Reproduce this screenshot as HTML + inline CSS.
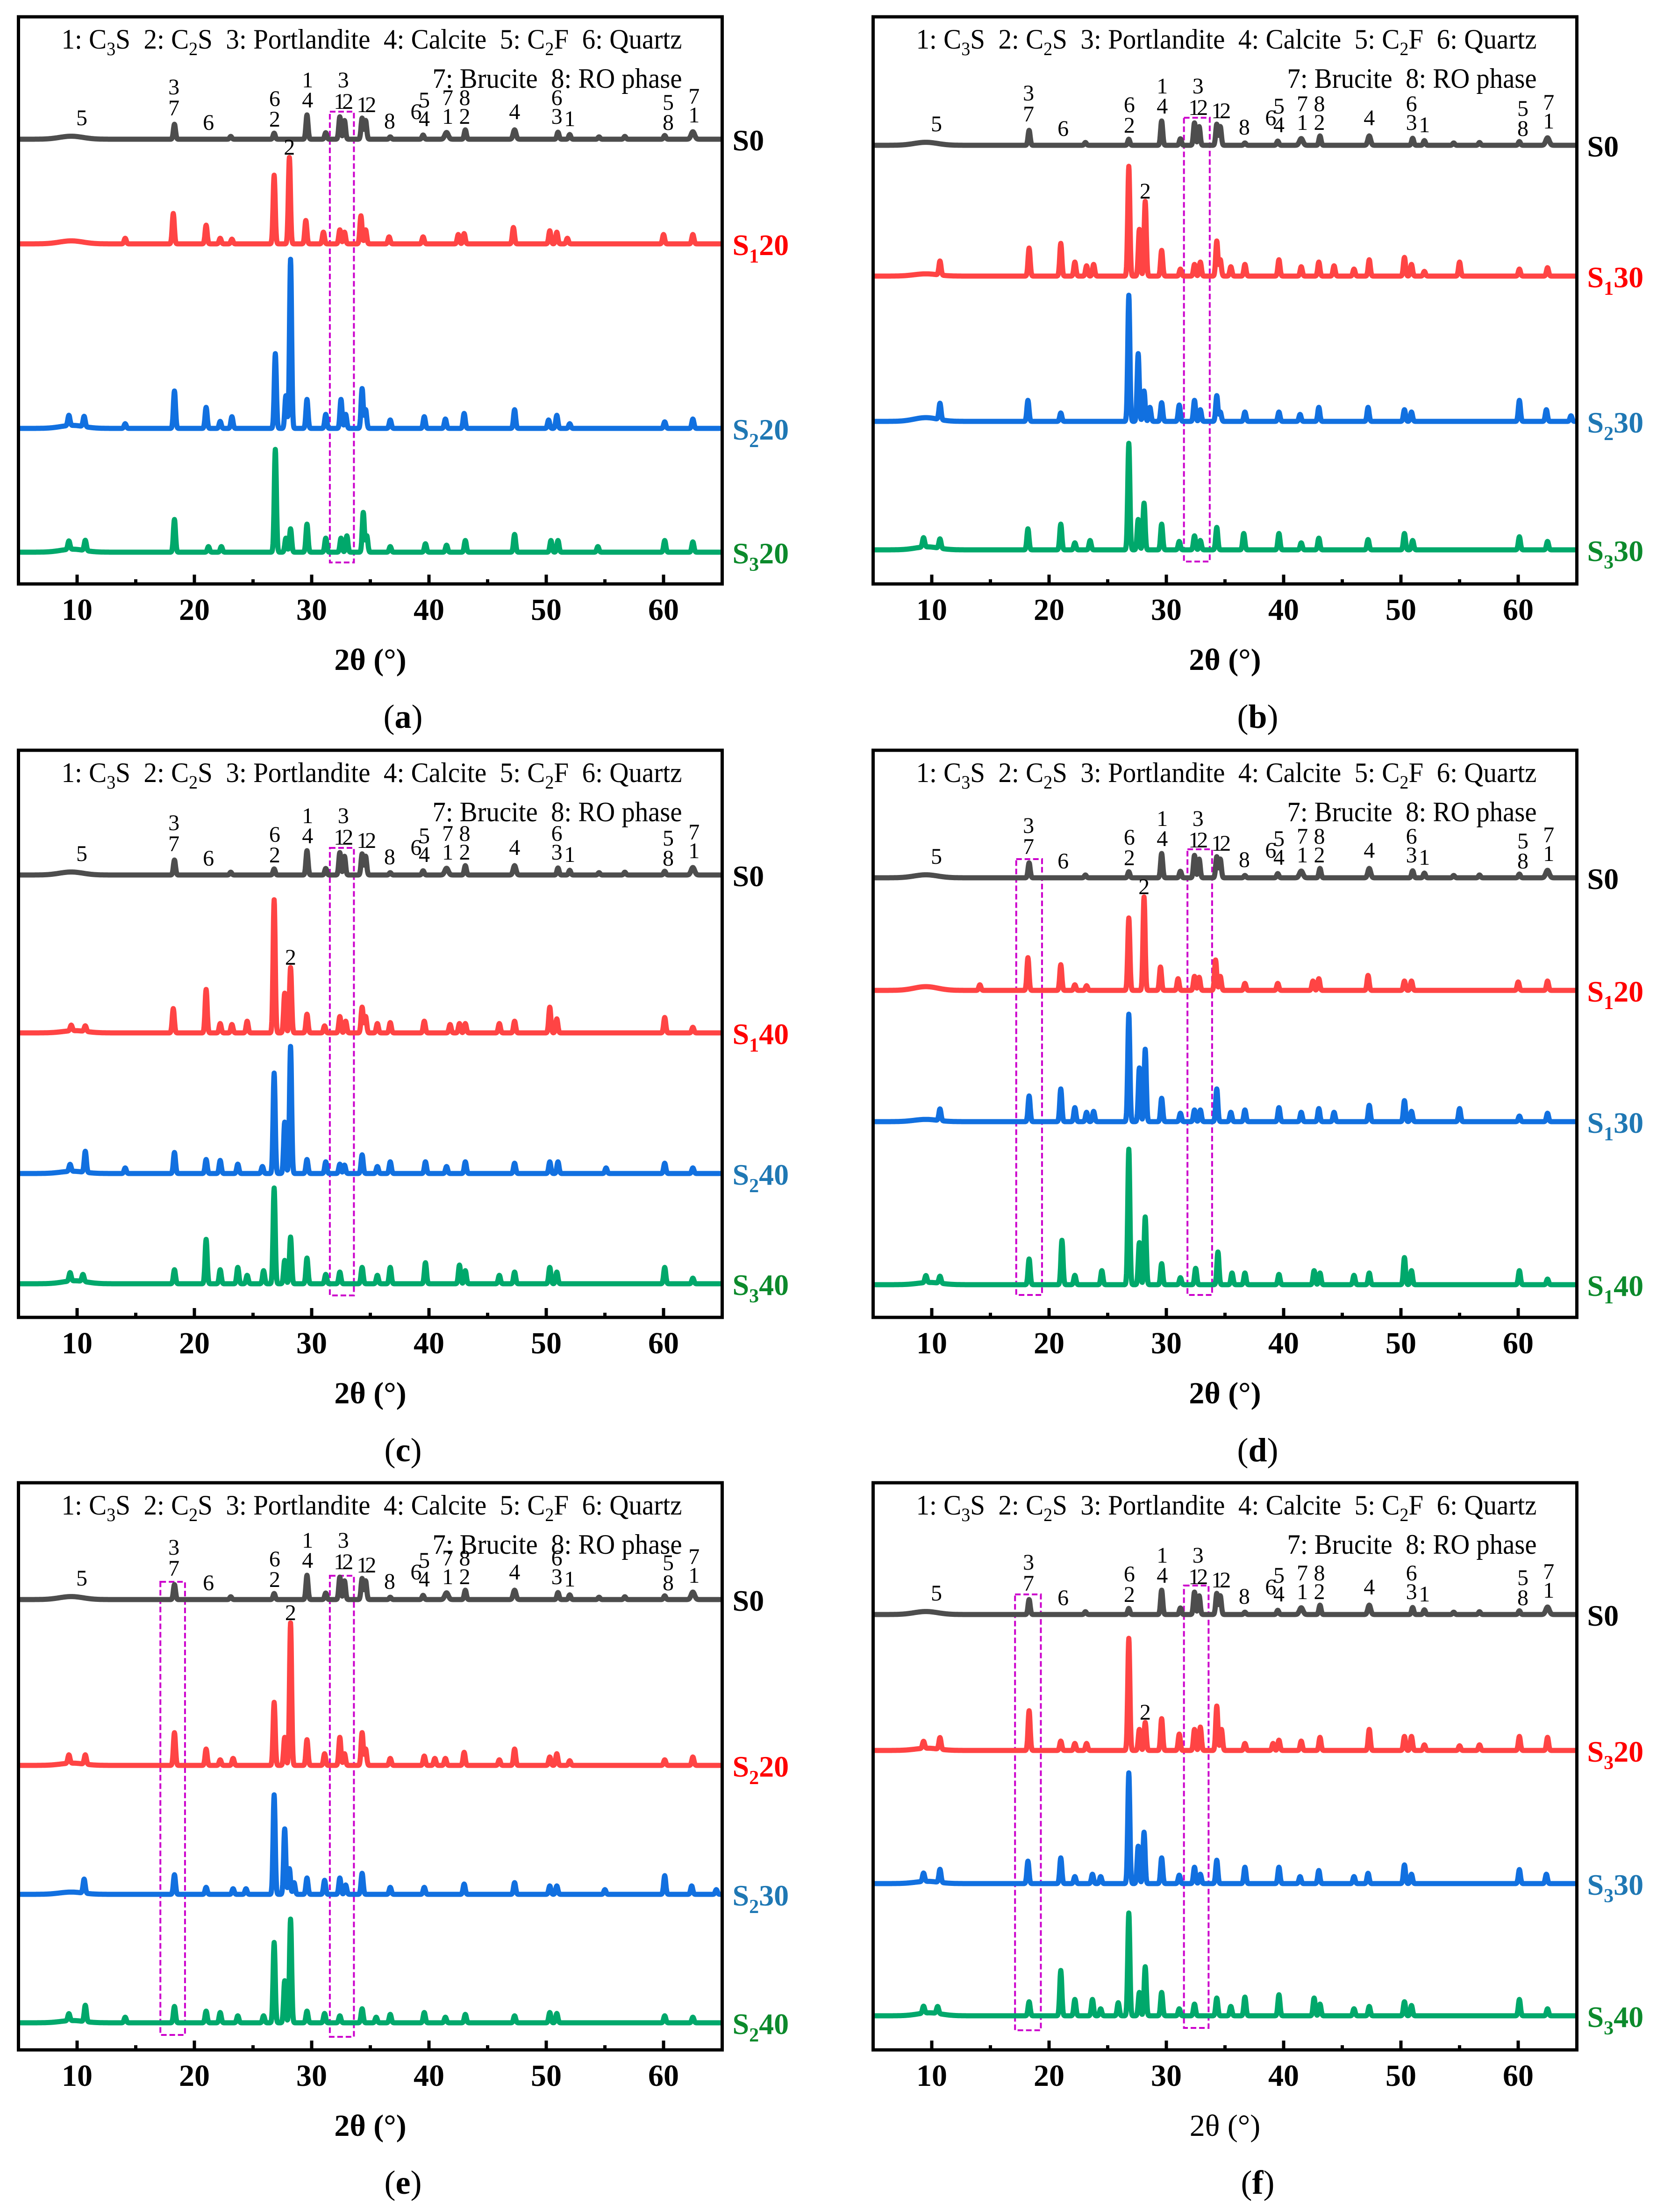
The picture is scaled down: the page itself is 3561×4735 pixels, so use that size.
<!DOCTYPE html>
<html><head><meta charset="utf-8"><style>
html,body{margin:0;padding:0;background:#fff;}
svg{display:block;}
text{font-family:"Liberation Serif","DejaVu Serif",serif;white-space:pre;}
</style></head>
<body>
<svg id="fig" xmlns="http://www.w3.org/2000/svg" width="3561" height="4735" viewBox="0 0 3561 4735"></svg>
<script>
// ---------- data ----------
const xTicks = [10,20,30,40,50,60];
const minorTicks = [5,15,25,35,45,55,65];
const legendLine1 = "1: C|3|S\u00a0\u00a02: C|2|S\u00a0\u00a03: Portlandite\u00a0\u00a04: Calcite\u00a0\u00a05: C|2|F\u00a0\u00a06: Quartz";
const legendLine2 = "7: Brucite\u00a0\u00a08: RO phase";
const panelLetters = ["a","b","c","d","e","f"];
const labelsA = [["S0","",""],["S","1","20"],["S","2","20"],["S","3","20"]];
const labelsB = [["S0","",""],["S","1","30"],["S","2","30"],["S","3","30"]];
const labelsC = [["S0","",""],["S","1","40"],["S","2","40"],["S","3","40"]];
const labelsD = [["S0","",""],["S","1","20"],["S","1","30"],["S","1","40"]];
const labelsE = [["S0","",""],["S","2","20"],["S","2","30"],["S","2","40"]];
const labelsF = [["S0","",""],["S","3","20"],["S","3","30"],["S","3","40"]];
const annotations = [[10.4,"5",30],[18.25,"3",96],[18.25,"7",51],[21.2,"6",20],[26.85,"6",71],[26.85,"2",27],
 [29.65,"1",111],[29.65,"4",68],[32.7,"3",111],[32.6,"12",65],[34.55,"12",58],[36.65,"8",23],[38.9,"6",43],
 [39.6,"5",68],[39.6,"4",28],[41.6,"7",73],[41.6,"1",33],[43.05,"8",73],[43.05,"2",33],[47.3,"4",43],
 [50.9,"6",73],[50.9,"3",33],[52.0,"1",28],[60.4,"5",63],[60.4,"8",20],[62.6,"7",76],[62.6,"1",36]];
const S0 = [[9.5,8,1.0],[18.3,32],[23.1,6],[26.8,13],[29.6,52],[31.2,14],[32.4,48],[32.8,40],[34.3,45],[34.6,40],
 [36.7,5],[39.5,9],[41.5,18,0.15],[43.1,20],[47.3,25,0.12],[51,15],[52,10],[54.5,5],[56.7,6],[60.1,8],[62.5,20,0.15]];
const A1 = [[9.5,8,1.0],[14.1,12],[18.2,65],[21,40],[22.2,12],[23.2,10],[26.8,147],[28.1,185],[29.5,50],[31,25],[32.4,30],
 [32.8,25],[34.2,60],[34.6,30],[36.6,15],[39.5,15],[42.5,20],[43,22],[47.2,35],[50.3,28],[50.9,25],[51.8,12],[60,20],[62.5,20]];
const A2 = [[9.3,22],[9.6,8,1.0],[10.6,22],[14.1,10],[18.3,80],[21,45],[22.2,15],[23.2,25],[26.9,160],[27.8,70],[28.2,362],
 [29.6,62],[31.2,30],[32.5,62],[32.9,30],[34.3,85],[34.6,40],[36.7,18],[39.6,25],[41.4,20],[43,32],[47.3,40],[50.2,18],
 [50.9,28],[52,10],[60.1,14],[62.5,20]];
const A3 = [[9.3,18],[9.6,8,1.0],[10.7,22],[18.3,70],[21.2,12],[22.3,12],[26.9,220],[27.8,30],[28.2,50],[29.6,60],[31.2,30],
 [32.5,30],[33,35],[34.4,85],[34.7,35],[36.7,12],[39.7,18],[41.5,15],[43.1,25],[47.3,38],[50.4,25],[51,25],[54.4,12],[60.1,25],[62.5,22]];
const B1 = [[9.5,6,1.0],[10.7,30],[18.3,60],[21,70],[22.2,30],[23.2,22],[23.8,25],[26.8,235],[27.7,100],[28.2,160],[29.6,55],
 [31.2,15],[32.4,25],[32.9,30],[34.3,75],[34.6,35],[35.5,20],[36.7,25],[39.6,35],[41.5,20],[43,30],[44.3,22],[46,15],
 [47.3,35],[50.3,40],[50.9,25],[52,10],[55,30],[60.1,15],[62.5,18]];
const B2 = [[9.5,10,1.0],[10.7,35],[18.2,45],[21,18],[26.8,270],[27.6,145],[28.1,65],[28.6,30],[29.6,40],[31.1,35],[32.4,45],
 [32.9,25],[34.3,55],[34.6,20],[36.7,20],[39.6,20],[41.4,15],[43,30],[47.2,30],[50.3,25],[50.9,20],[60.1,45],[62.4,25],[64.5,12]];
const B3 = [[9.3,20],[9.6,8,1.0],[10.7,20],[18.2,45],[21,55],[22.2,15],[23.5,20],[26.8,228],[27.6,65],[28.1,100],[29.6,55],
 [31.1,18],[32.4,30],[32.9,20],[34.3,48],[36.6,35],[39.6,35],[41.5,15],[43,25],[47.2,22],[50.3,35],[51,20],[60.1,28],[62.5,18]];
const C1 = [[9.5,12],[9.8,6,1.0],[10.7,12],[18.2,52],[21,93],[22.2,20],[23.2,18],[24.5,25],[26.8,285],[27.7,85],[28.2,140],
 [29.6,40],[31.1,15],[32.4,35],[32.9,25],[34.3,55],[34.6,35],[35.6,20],[36.7,22],[39.6,25],[41.8,18],[42.6,20],[43.1,20],
 [46,20],[47.3,25],[50.3,55],[50.9,30],[60.1,33],[62.5,12]];
const C2 = [[9.4,15],[9.6,6,1.0],[10.7,45],[14.1,12],[18.3,45],[21,30],[22.2,28],[23.7,20],[25.8,15],[26.8,215],[27.7,110],
 [28.2,272],[29.6,30],[31.2,25],[32.4,20],[32.8,18],[34.3,40],[35.6,15],[36.7,25],[39.7,25],[41.5,15],[43.1,25],[47.3,22],
 [50.3,25],[51,25],[55.1,12],[60.1,22],[62.5,12]];
const C3 = [[9.4,18],[9.8,8,1.0],[10.5,15],[18.3,30],[21,95],[22.2,30],[23.7,35],[24.5,18],[25.9,28],[26.8,205],[27.7,50],
 [28.2,100],[29.6,55],[31.2,20],[32.4,25],[34.3,35],[35.6,18],[36.7,35],[39.7,45],[42.6,40],[43.1,28],[46,18],[47.3,25],
 [50.3,35],[50.9,25],[60.1,35],[62.5,12]];
const D1 = [[9.5,10,1.0],[14.1,12],[18.2,70],[21,55],[22.2,12],[23.2,10],[26.8,155],[28.1,200],[29.5,50],[31,25],[32.4,30],
 [32.8,28],[34.2,65],[34.6,30],[36.7,15],[39.5,15],[42.5,20],[43,25],[47.2,32],[50.3,20],[50.9,20],[60,18],[62.5,20]];
const D2 = [[9.5,6,1.0],[10.7,25],[18.3,55],[21,70],[22.2,30],[23.2,20],[23.8,22],[26.8,230],[27.7,115],[28.2,155],[29.6,50],
 [31.2,18],[32.4,25],[32.9,25],[34.3,70],[35.5,20],[36.7,25],[39.6,30],[41.5,20],[43,28],[44.3,20],[47.3,35],[50.3,45],
 [50.9,22],[55,28],[60.1,12],[62.5,18]];
const D3 = [[9.5,15],[9.8,6,1.0],[10.7,15],[18.3,55],[21.1,95],[22.2,20],[24.5,30],[26.8,290],[27.7,90],[28.2,145],[29.6,45],
 [31.2,15],[32.5,35],[34.4,70],[35.6,25],[36.7,25],[39.6,22],[42.6,30],[43.1,25],[46,20],[47.3,25],[50.3,58],[50.9,30],
 [60.1,30],[62.5,12]];
const E1 = [[9.3,18],[9.6,6,1.0],[10.7,20],[18.3,70],[21,35],[22.2,12],[23.3,15],[26.8,135],[27.7,60],[28.2,305],[29.6,55],
 [31.1,25],[32.4,60],[32.8,25],[34.3,70],[34.6,35],[36.7,15],[39.6,20],[40.5,15],[41.4,15],[43,28],[46,12],[47.3,35],
 [50.3,18],[50.9,25],[52,10],[60.1,12],[62.5,18]];
const E2 = [[9.5,6,1.0],[10.6,30],[18.3,42],[21,15],[23.3,12],[24.4,12],[26.8,213],[27.7,140],[28.1,55],[28.5,25],[29.6,35],
 [31.1,30],[32.4,35],[32.9,20],[34.3,45],[36.7,15],[39.6,15],[43,22],[47.3,25],[50.3,18],[50.9,18],[55,10],[60.1,40],
 [62.4,18],[64.5,10]];
const E3 = [[9.3,15],[9.6,6,1.0],[10.7,35],[14.1,12],[18.3,35],[21,25],[22.2,22],[23.7,15],[25.9,15],[26.8,172],[27.7,90],
 [28.2,222],[29.6,25],[31.1,20],[32.4,15],[34.3,30],[35.5,12],[36.7,18],[39.6,22],[41.4,12],[43.1,18],[47.3,15],[50.3,22],
 [50.9,20],[60.1,15],[62.5,12]];
const F1 = [[9.3,15],[9.6,6,1.0],[10.7,25],[18.3,85],[21,20],[22.2,15],[23.2,15],[26.8,240],[27.7,45],[28.2,60],[29.6,68],
 [31.1,35],[32.4,45],[32.9,50],[34.3,95],[34.7,45],[36.7,15],[39.1,15],[39.6,22],[41.5,20],[43.1,28],[47.3,45],[50.3,30],
 [50.9,30],[52,12],[55,10],[56.7,12],[60.1,30],[62.5,28]];
const F2 = [[9.3,18],[9.6,6,1.0],[10.7,28],[18.2,48],[21,55],[22.2,15],[23.7,20],[24.4,15],[26.8,237],[27.6,80],[28.1,110],
 [29.6,55],[31.1,18],[32.4,35],[32.9,20],[34.3,50],[36.7,35],[39.6,35],[41.4,15],[43,28],[46,15],[47.2,22],[50.3,40],
 [50.9,20],[60.1,30],[62.4,20]];
const F3 = [[9.3,15],[9.8,8,1.0],[10.5,15],[18.3,30],[21,97],[22.2,35],[23.7,35],[24.4,15],[25.9,28],[26.8,220],[27.7,50],
 [28.2,105],[29.6,50],[31.1,15],[32.4,25],[34.3,38],[35.5,20],[36.7,40],[39.6,45],[42.6,38],[43.1,25],[46,15],[47.3,20],
 [50.3,30],[50.9,22],[60.1,35],[62.5,15]];
const baselinesA = [262,486,881,1146];
const baselinesB = [275,555,866,1141];
const baselinesC = [267,605,906,1142];
const baselinesD = [273,514,795,1144];
const baselinesE = [250,605,881,1156];
const baselinesF = [282,573,858,1141];
const boxesA = [[31.55,33.6,203,1168]];
const boxesB = [[31.5,33.7,216,1166]];
const boxesC = [[31.55,33.6,209,1167]];
const boxesD = [[17.2,19.4,233,1166],[31.8,33.9,212,1166]];
const boxesE = [[17.1,19.2,212,1182],[31.55,33.6,199,1186]];
const boxesF = [[17.1,19.3,239,1172],[31.5,33.6,220,1167]];
const mark2A = [28.1,1];
const mark2B = [28.2,1];
const mark2C = [28.2,1];
const mark2D = [28.1,1];
const mark2E = [28.2,1];
const mark2F = [28.2,1];

const panels = [
 {id:"a",col:0,row:0,series:[S0,A1,A2,A3],labels:labelsA,base:baselinesA,boxes:boxesA,mark:mark2A,titleBold:true},
 {id:"b",col:1,row:0,series:[S0,B1,B2,B3],labels:labelsB,base:baselinesB,boxes:boxesB,mark:mark2B,titleBold:true},
 {id:"c",col:0,row:1,series:[S0,C1,C2,C3],labels:labelsC,base:baselinesC,boxes:boxesC,mark:mark2C,titleBold:true},
 {id:"d",col:1,row:1,series:[S0,D1,D2,D3],labels:labelsD,base:baselinesD,boxes:boxesD,mark:mark2D,titleBold:true},
 {id:"e",col:0,row:2,series:[S0,E1,E2,E3],labels:labelsE,base:baselinesE,boxes:boxesE,mark:mark2E,titleBold:true},
 {id:"f",col:1,row:2,series:[S0,F1,F2,F3],labels:labelsF,base:baselinesF,boxes:boxesF,mark:mark2F,titleBold:false}
];

// ---------- drawing ----------
const NS = "http://www.w3.org/2000/svg";
const svg = document.getElementById("fig");
const curveColors = ["#4d4d4d","#ff4444","#1170e0","#00a86b"];
const labelColors = ["#000000","#ff0000","#1f78b4","#0c8a2c"];
const colX = [0,1829];
const rowY = [36,1606,3174];
const FW = 1506, FH = 1214;

function mk(tag, attrs, parent){
  const e = document.createElementNS(NS, tag);
  for (const k in attrs) e.setAttribute(k, attrs[k]);
  (parent||svg).appendChild(e);
  return e;
}
function intensity(peaks, t){
  let s = 0;
  for (const p of peaks){
    const w = p[2] || 0.09;
    const d = (t - p[0]) / w;
    if (d > -8 && d < 8) s += p[1] * (p[2] ? 0.8 : 1) * Math.exp(-0.5 * d * d);
  }
  return s;
}

panels.forEach(function(P, pi){
  const L = colX[P.col] + 39.5, T = rowY[P.row], R = L + FW, B = T + FH;
  const xs = function(t){ return L + (t - 5) * FW / 60; };
  const g = mk("g", {});
  
  

  const leg = mk("g", {}, g);
  
  
  const t1 = mk("text", {x: L + 92, y: T + 68, "font-size": 60, textLength: 1328, lengthAdjust: "spacingAndGlyphs"}, leg);
  legendLine1.split("|").forEach(function(s, i){
    const ts = mk("tspan", {}, t1);
    if (i % 2 === 1){ ts.setAttribute("font-size", 40); ts.setAttribute("dy", 14); }
    else if (i > 0){ ts.setAttribute("dy", -14); }
    ts.textContent = s;
  });
  const l2 = mk("text", {x: L + 92 + 1328, y: T + 152, "font-size": 60, "text-anchor": "end", textLength: 534, lengthAdjust: "spacingAndGlyphs"}, leg);
  l2.textContent = legendLine2;

  P.boxes.forEach(function(b){
    const r = mk("rect", {x: xs(b[0]), y: T + b[2], width: xs(b[1]) - xs(b[0]), height: b[3] - b[2],
      fill: "none", stroke: "#cc00cc", "stroke-width": 4, "stroke-dasharray": "12 6"}, g);
    
    
  });

  P.series.forEach(function(peaks, si){
    const y0 = T + P.base[si];
    let d = "";
    for (let t = 5; t <= 65.0001; t += 0.025){
      const y = y0 - intensity(peaks, t);
      d += (d ? "L" : "M") + xs(t).toFixed(1) + " " + y.toFixed(1);
    }
    const p = mk("path", {d: d, fill: "none", stroke: curveColors[si], "stroke-width": 11, "stroke-linejoin": "round"}, g);
    
    

    const lb = P.labels[si];
    const t = mk("text", {x: R + 22, y: y0 + 24, "font-size": 64, "font-weight": "bold", fill: labelColors[si]}, g);
    
    
    const a = mk("tspan", {}, t); a.textContent = lb[0];
    if (lb[1]){
      const b = mk("tspan", {"font-size": 42, dy: 16}, t); b.textContent = lb[1];
      const c = mk("tspan", {dy: -16}, t); c.textContent = lb[2];
    }
  });

  const mp = P.mark;
  const peakTop = T + P.base[mp[1]] - intensity(P.series[mp[1]], mp[0]);
  const m2 = mk("text", {x: xs(mp[0]), y: peakTop - 6, "font-size": 48, "text-anchor": "middle"}, g);
  
  
  m2.textContent = "2";

  const ann = mk("g", {}, g);
  
  
  annotations.forEach(function(a){
    const t = mk("text", {x: xs(a[0]), y: T + P.base[0] - a[2], "font-size": 48, "text-anchor": "middle", "letter-spacing": a[1].length > 1 ? -6 : 0}, ann);
    t.textContent = a[1];
  });

  const fr = mk("rect", {x: L, y: T, width: FW, height: FH, fill: "none", stroke: "#000", "stroke-width": 7}, g);
  
  

  const ax = mk("g", {}, g);
  
  
  xTicks.forEach(function(v){
    mk("line", {x1: xs(v), x2: xs(v), y1: B, y2: B - 20, stroke: "#000", "stroke-width": 7}, ax);
    const t = mk("text", {x: xs(v), y: B + 77, "font-size": 66, "font-weight": "bold", "text-anchor": "middle"}, ax);
    t.textContent = v;
  });
  minorTicks.forEach(function(v){
    mk("line", {x1: xs(v), x2: xs(v), y1: B, y2: B - 10, stroke: "#000", "stroke-width": 7}, ax);
  });
  const tt = mk("text", {x: (L + R) / 2, y: B + 184, "font-size": 66, "font-weight": P.titleBold ? "bold" : "normal", "text-anchor": "middle"}, g);
  
  
  tt.textContent = "2θ (°)";

  const pl = mk("text", {x: (L + R) / 2 + 70, y: B + 308, "font-size": 72, "text-anchor": "middle"}, g);
  
  
  const o1 = mk("tspan", {}, pl); o1.textContent = "(";
  const o2 = mk("tspan", {"font-weight": "bold"}, pl); o2.textContent = panelLetters[pi];
  const o3 = mk("tspan", {}, pl); o3.textContent = ")";
});
</script>
</body></html>
